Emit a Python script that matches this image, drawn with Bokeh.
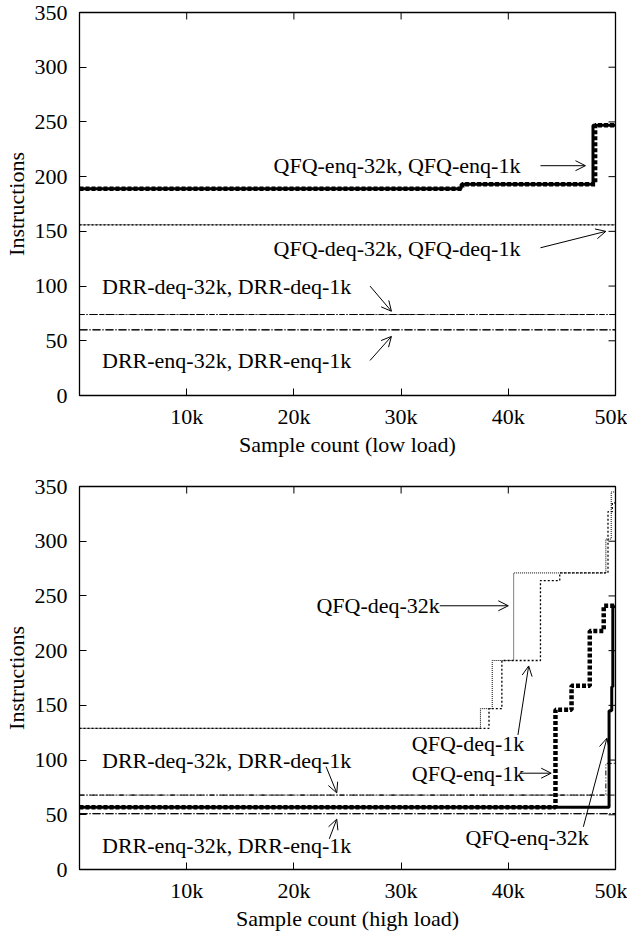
import math
from bokeh.plotting import figure
from bokeh.models import Range1d, FixedTicker, Arrow, OpenHead, ColumnDataSource
from bokeh.layouts import column
from bokeh.core.properties import value
from bokeh.embed import file_html
from bokeh.resources import INLINE

FONT = "Liberation Serif"
FS = "22px"

# ---- axes ----
X_MIN, X_MAX = 0, 50000
Y_MIN, Y_MAX = 0, 350
x_ticks = [10000, 20000, 30000, 40000, 50000]
x_tick_labels = ["10k", "20k", "30k", "40k", "50k"]
y_ticks = [0, 50, 100, 150, 200, 250, 300, 350]

# ---- low load ----
low_qfq_enq_32k_x = [0, 35600, 47900, 50000]
low_qfq_enq_32k_y = [189, 193, 247, 247]
low_qfq_enq_1k_x = [0, 35700, 48100, 50000]
low_qfq_enq_1k_y = [189, 193, 247, 247]
low_qfq_deq_32k_x = [0, 50000]
low_qfq_deq_32k_y = [156, 156]
low_qfq_deq_1k_x = [0, 50000]
low_qfq_deq_1k_y = [156, 156]
low_drr_deq_32k_x = [0, 50000]
low_drr_deq_32k_y = [74, 74]
low_drr_deq_1k_x = [0, 50000]
low_drr_deq_1k_y = [74, 74]
low_drr_enq_32k_x = [0, 50000]
low_drr_enq_32k_y = [60, 60]
low_drr_enq_1k_x = [0, 50000]
low_drr_enq_1k_y = [60, 60]

low_label_text = ["QFQ-enq-32k, QFQ-enq-1k", "QFQ-deq-32k, QFQ-deq-1k",
                  "DRR-deq-32k, DRR-deq-1k", "DRR-enq-32k, DRR-enq-1k"]
low_label_x = [18100, 18100, 2100, 2100]
low_label_y = [210, 134, 100, 32]
low_arrow_x0 = [43000, 43000, 27100, 27100]
low_arrow_y0 = [210, 135, 100, 32]
low_arrow_x1 = [47200, 49100, 29100, 29100]
low_arrow_y1 = [210, 150, 77, 54]

# ---- high load ----
high_qfq_enq_32k_x = [0, 49400, 49650, 49750, 50000]
high_qfq_enq_32k_y = [57, 145, 167, 240, 240]
high_qfq_enq_1k_x = [0, 44400, 45900, 47600, 48900, 50000]
high_qfq_enq_1k_y = [57, 146, 168, 218, 241, 241]
high_qfq_deq_32k_x = [0, 37400, 38500, 40500, 49100, 49600, 50000]
high_qfq_deq_32k_y = [129, 147, 191, 271, 302, 345, 345]
high_qfq_deq_1k_x = [0, 38200, 39400, 43000, 44800, 49300, 49700, 50000]
high_qfq_deq_1k_y = [129, 147, 191, 264, 271, 327, 335, 335]
high_drr_deq_32k_x = [0, 50000]
high_drr_deq_32k_y = [68, 68]
high_drr_deq_1k_x = [0, 49100, 50000]
high_drr_deq_1k_y = [68, 97, 97]
high_drr_enq_32k_x = [0, 50000]
high_drr_enq_32k_y = [51, 51]
high_drr_enq_1k_x = [0, 50000]
high_drr_enq_1k_y = [51, 51]

high_label_text = ["QFQ-deq-32k", "QFQ-deq-1k", "QFQ-enq-1k", "QFQ-enq-32k",
                   "DRR-deq-32k, DRR-deq-1k", "DRR-enq-32k, DRR-enq-1k"]
high_label_x = [22100, 31000, 31000, 36000, 2100, 2100]
high_label_y = [241, 115, 88, 29, 100, 22]
high_arrow_x0 = [33600, 40900, 41100, 47000, 23000, 23300]
high_arrow_y0 = [241, 123, 88, 39, 94, 28]
high_arrow_x1 = [40000, 41900, 44000, 49200, 24000, 24000]
high_arrow_y1 = [241, 186, 88, 120, 70, 46]

STYLES = {
    "qfq_enq_32k": dict(line_width=3, line_dash="solid"),
    "qfq_enq_1k": dict(line_width=4.5, line_dash="4 2"),
    "qfq_deq_32k": dict(line_width=1, line_dash="1 1"),
    "qfq_deq_1k": dict(line_width=1.3, line_dash="2 2"),
    "drr_deq_32k": dict(line_width=1, line_dash="5 2 1 2"),
    "drr_deq_1k": dict(line_width=1, line_dash="5 2 1 2 1 2"),
    "drr_enq_32k": dict(line_width=1, line_dash="8 2 1 2"),
    "drr_enq_1k": dict(line_width=1, line_dash="8 2 1 2"),
}

TICK_LEN = 7


def style_axis(ax, ticks):
    ax.ticker = FixedTicker(ticks=ticks)
    ax.major_tick_in = TICK_LEN
    ax.major_tick_out = 0
    ax.minor_tick_in = 0
    ax.minor_tick_out = 0
    ax.major_tick_line_color = "black"
    ax.major_tick_line_width = 1
    ax.axis_line_color = None
    ax.major_label_text_font = FONT
    ax.major_label_text_color = "black"
    ax.major_label_text_font_size = FS
    ax.axis_label_text_font = FONT
    ax.axis_label_text_font_style = "normal"
    ax.axis_label_text_font_size = FS
    ax.axis_label_text_color = "black"


def make_fig(xlabel, top_border, bottom_border, frame_h, series, ltext, lx, ly, ax0, ay0, ax1, ay1):
    p = figure(frame_width=536, frame_height=frame_h,
               x_range=Range1d(X_MIN, X_MAX), y_range=Range1d(Y_MIN, Y_MAX),
               output_backend="svg", toolbar_location=None,
               min_border_left=73, min_border_right=12,
               min_border_top=top_border, min_border_bottom=bottom_border,
               x_axis_label=xlabel, y_axis_label="Instructions")
    p.xgrid.visible = False
    p.ygrid.visible = False
    p.outline_line_color = "black"
    p.outline_line_width = 1.3
    p.outline_line_alpha = 1
    p.background_fill_color = "white"
    p.border_fill_color = "white"

    style_axis(p.xaxis[0], x_ticks)
    p.xaxis[0].major_label_overrides = {t: l for t, l in zip(x_ticks, x_tick_labels)}
    p.xaxis[0].major_label_standoff = 8
    p.xaxis[0].axis_label_standoff = 0
    style_axis(p.yaxis[0], y_ticks)
    p.yaxis[0].major_label_standoff = 12
    p.yaxis[0].axis_label_standoff = 3

    # mirrored inward ticks on the top and right border (gnuplot style)
    p.ray(x=x_ticks, y=[Y_MAX] * len(x_ticks), length=TICK_LEN, length_units="screen",
          angle=-math.pi / 2, line_color="black", line_width=1)
    p.ray(x=[X_MAX] * len(y_ticks), y=y_ticks, length=TICK_LEN, length_units="screen",
          angle=math.pi, line_color="black", line_width=1)

    for name, (xs, ys) in series.items():
        p.step(xs, ys, mode="after", line_color="black", **STYLES[name])

    src = ColumnDataSource(dict(x=lx, y=ly, t=ltext))
    p.text(x="x", y="y", text="t", source=src, text_font=value(FONT),
           text_font_size=value(FS), text_align="left", text_baseline="middle",
           text_color="black")
    asrc = ColumnDataSource(dict(x0=ax0, y0=ay0, x1=ax1, y1=ay1))
    p.add_layout(Arrow(end=OpenHead(size=10, line_width=1, line_color="black"),
                       x_start="x0", y_start="y0", x_end="x1", y_end="y1",
                       line_width=1, line_color="black", source=asrc))
    return p


low_series = {
    "qfq_deq_32k": (low_qfq_deq_32k_x, low_qfq_deq_32k_y),
    "qfq_deq_1k": (low_qfq_deq_1k_x, low_qfq_deq_1k_y),
    "drr_deq_32k": (low_drr_deq_32k_x, low_drr_deq_32k_y),
    "drr_deq_1k": (low_drr_deq_1k_x, low_drr_deq_1k_y),
    "drr_enq_32k": (low_drr_enq_32k_x, low_drr_enq_32k_y),
    "drr_enq_1k": (low_drr_enq_1k_x, low_drr_enq_1k_y),
    "qfq_enq_1k": (low_qfq_enq_1k_x, low_qfq_enq_1k_y),
    "qfq_enq_32k": (low_qfq_enq_32k_x, low_qfq_enq_32k_y),
}
high_series = {
    "qfq_deq_32k": (high_qfq_deq_32k_x, high_qfq_deq_32k_y),
    "qfq_deq_1k": (high_qfq_deq_1k_x, high_qfq_deq_1k_y),
    "drr_deq_32k": (high_drr_deq_32k_x, high_drr_deq_32k_y),
    "drr_deq_1k": (high_drr_deq_1k_x, high_drr_deq_1k_y),
    "drr_enq_32k": (high_drr_enq_32k_x, high_drr_enq_32k_y),
    "drr_enq_1k": (high_drr_enq_1k_x, high_drr_enq_1k_y),
    "qfq_enq_1k": (high_qfq_enq_1k_x, high_qfq_enq_1k_y),
    "qfq_enq_32k": (high_qfq_enq_32k_x, high_qfq_enq_32k_y),
}

p1 = make_fig("Sample count (low load)", 12, 57, 383, low_series, low_label_text,
              low_label_x, low_label_y, low_arrow_x0, low_arrow_y0, low_arrow_x1, low_arrow_y1)
p2 = make_fig("Sample count (high load)", 27, 58, 383, high_series, high_label_text,
              high_label_x, high_label_y, high_arrow_x0, high_arrow_y0, high_arrow_x1, high_arrow_y1)

layout = column(p1, p2, spacing=0)
open("out.html", "w").write(file_html(layout, INLINE))
